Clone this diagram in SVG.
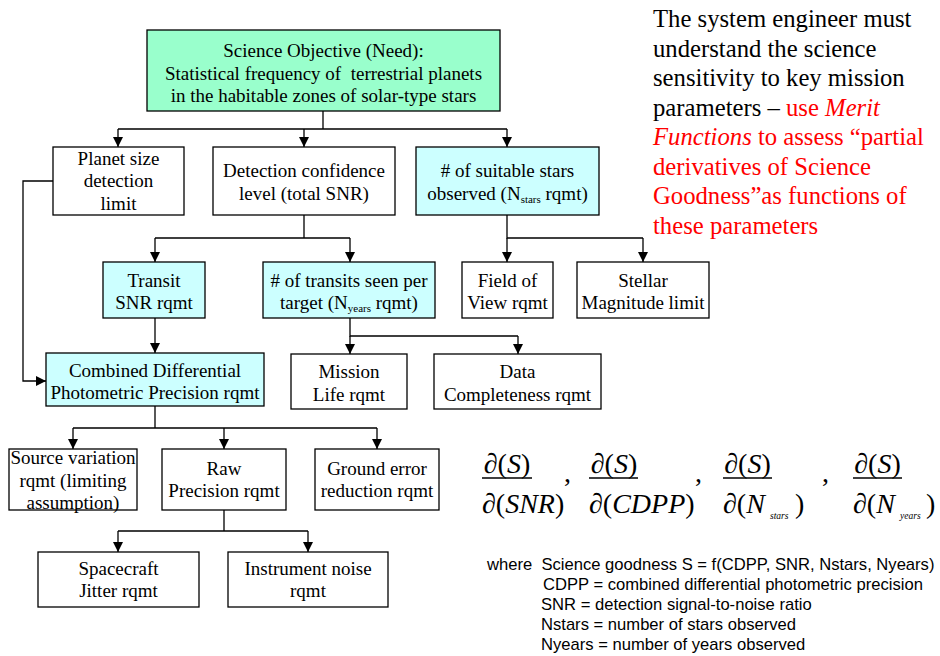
<svg xmlns="http://www.w3.org/2000/svg" width="940" height="656" viewBox="0 0 940 656">
<defs>
<marker id="ah" markerWidth="10" markerHeight="10" refX="10" refY="5" orient="auto" markerUnits="userSpaceOnUse">
<path d="M0,0 L10,5 L0,10 z" fill="#000"/>
</marker>
<style>
.box{stroke:#000;stroke-width:1.3;fill:#fff}
.cy{fill:#ccffff}
.gr{fill:#99ffcc}
.t{font-family:"Liberation Serif","Times New Roman",serif;font-size:19px;fill:#000;text-anchor:middle}
.sub{font-size:11px}
.c{stroke:#000;stroke-width:1.3;fill:none}
.a{marker-end:url(#ah)}
.rt{font-family:"Liberation Serif","Times New Roman",serif;font-size:24.7px;fill:#000}
.red{fill:#ff0000}
.f{font-family:"Liberation Serif","Times New Roman",serif;font-size:28px;fill:#000}
.fs{font-family:"Liberation Serif","Times New Roman",serif;font-size:9.5px;font-style:italic;fill:#000}
.it{font-style:italic}
.b{font-family:"Liberation Sans",Arial,sans-serif;font-size:16.6px;fill:#000}
</style>
</defs>
<rect width="940" height="656" fill="#fff"/>

<g id="connectors">
<path class="c" d="M323,111 V129 M118,129 H507"/>
<path class="c a" d="M118,129 V147"/>
<path class="c a" d="M304,129 V147"/>
<path class="c a" d="M507,129 V147"/>
<path class="c" d="M304,215 V238 M155,238 H350"/>
<path class="c a" d="M155,238 V262"/>
<path class="c a" d="M350,238 V262"/>
<path class="c" d="M507,215 V238 H643"/>
<path class="c a" d="M507,238 V262"/>
<path class="c a" d="M643,238 V262"/>
<path class="c a" d="M155,318 V353"/>
<path class="c" d="M350,318 V336 H518"/>
<path class="c a" d="M350,336 V354"/>
<path class="c a" d="M518,336 V354"/>
<path class="c a" d="M53,181 H23 V381 H46"/>
<path class="c" d="M155,406 V428 M73,428 H377"/>
<path class="c a" d="M73,428 V449"/>
<path class="c a" d="M224,428 V449"/>
<path class="c a" d="M377,428 V449"/>
<path class="c" d="M224,510 V531 M118,531 H308"/>
<path class="c a" d="M118,531 V552"/>
<path class="c a" d="M308,531 V552"/>
</g>

<g id="science-objective">
<rect class="box gr" x="147" y="30" width="353" height="81"/>
<text class="t" x="323.5" y="57">Science Objective (Need):</text>
<text class="t" x="323.5" y="80" xml:space="preserve">Statistical frequency of  terrestrial planets</text>
<text class="t" x="323.5" y="102">in the habitable zones of solar-type stars</text>
</g>

<g id="planet-size">
<rect class="box" x="53" y="147" width="131" height="68"/>
<text class="t" x="118.5" y="165">Planet size</text>
<text class="t" x="118.5" y="187">detection</text>
<text class="t" x="118.5" y="210">limit</text>
</g>

<g id="detection-confidence">
<rect class="box" x="213" y="147" width="182" height="68"/>
<text class="t" x="304" y="177">Detection confidence</text>
<text class="t" x="304" y="200">level (total SNR)</text>
</g>

<g id="suitable-stars">
<rect class="box cy" x="416" y="147" width="183" height="68"/>
<text class="t" x="507.5" y="177"># of suitable stars</text>
<text class="t" x="507.5" y="200">observed (N<tspan class="sub" dy="3">stars</tspan><tspan dy="-3"> rqmt)</tspan></text>
</g>

<g id="transit-snr">
<rect class="box cy" x="103" y="262" width="102" height="56"/>
<text class="t" x="154" y="287">Transit</text>
<text class="t" x="154" y="309">SNR rqmt</text>
</g>

<g id="transits-seen">
<rect class="box cy" x="263" y="262" width="172" height="56"/>
<text class="t" x="349" y="287"># of transits seen per</text>
<text class="t" x="349" y="309">target (N<tspan class="sub" dy="3">years</tspan><tspan dy="-3"> rqmt)</tspan></text>
</g>

<g id="field-of-view">
<rect class="box" x="462" y="262" width="91" height="56"/>
<text class="t" x="507.5" y="287">Field of</text>
<text class="t" x="507.5" y="309">View rqmt</text>
</g>

<g id="stellar-magnitude">
<rect class="box" x="577" y="262" width="132" height="56"/>
<text class="t" x="643" y="287">Stellar</text>
<text class="t" x="643" y="309">Magnitude limit</text>
</g>

<g id="cdpp">
<rect class="box cy" x="46" y="353" width="218" height="53"/>
<text class="t" x="155" y="377">Combined Differential</text>
<text class="t" x="155" y="399">Photometric Precision rqmt</text>
</g>

<g id="mission-life">
<rect class="box" x="291" y="354" width="116" height="55"/>
<text class="t" x="349" y="378">Mission</text>
<text class="t" x="349" y="401">Life rqmt</text>
</g>

<g id="data-completeness">
<rect class="box" x="434" y="354" width="167" height="55"/>
<text class="t" x="517.5" y="378">Data</text>
<text class="t" x="517.5" y="401">Completeness rqmt</text>
</g>

<g id="source-variation">
<rect class="box" x="9" y="449" width="128" height="61"/>
<text class="t" x="73" y="464">Source variation</text>
<text class="t" x="73" y="487">rqmt (limiting</text>
<text class="t" x="73" y="509">assumption)</text>
</g>

<g id="raw-precision">
<rect class="box" x="162" y="449" width="124" height="61"/>
<text class="t" x="224" y="475">Raw</text>
<text class="t" x="224" y="497">Precision rqmt</text>
</g>

<g id="ground-error">
<rect class="box" x="315" y="449" width="124" height="61"/>
<text class="t" x="377" y="475">Ground error</text>
<text class="t" x="377" y="497">reduction rqmt</text>
</g>

<g id="spacecraft-jitter">
<rect class="box" x="38" y="552" width="161" height="55"/>
<text class="t" x="118.5" y="575">Spacecraft</text>
<text class="t" x="118.5" y="597">Jitter rqmt</text>
</g>

<g id="instrument-noise">
<rect class="box" x="228" y="552" width="160" height="55"/>
<text class="t" x="308" y="575">Instrument noise</text>
<text class="t" x="308" y="597">rqmt</text>
</g>

<g id="note">
<text class="rt" x="653" y="27">The system engineer must</text>
<text class="rt" x="653" y="56.5">understand the science</text>
<text class="rt" x="653" y="86">sensitivity to key mission</text>
<text class="rt" x="653" y="115.5">parameters – <tspan class="red">use </tspan><tspan class="red it">Merit</tspan></text>
<text class="rt red" x="653" y="145"><tspan class="it">Functions</tspan> to assess “partial</text>
<text class="rt red" x="653" y="174.5">derivatives of Science</text>
<text class="rt red" x="653" y="204">Goodness”as functions of</text>
<text class="rt red" x="653" y="233.5">these parameters</text>
</g>

<g id="formulas">
<text class="f" x="507" y="473" text-anchor="middle">∂(<tspan class="it">S</tspan>)</text>
<line class="c" x1="482" y1="478" x2="532" y2="478"/>
<text class="f" x="482" y="513">∂(<tspan class="it">SNR</tspan>)</text>
<text class="f" x="564" y="482">,</text>
<text class="f" x="614" y="473" text-anchor="middle">∂(<tspan class="it">S</tspan>)</text>
<line class="c" x1="589" y1="478" x2="638" y2="478"/>
<text class="f" x="589" y="513">∂(<tspan class="it">CDPP</tspan>)</text>
<text class="f" x="695" y="482">,</text>
<text class="f" x="747.5" y="473" text-anchor="middle">∂(<tspan class="it">S</tspan>)</text>
<line class="c" x1="723" y1="478" x2="772" y2="478"/>
<text class="f" x="723" y="513">∂(<tspan class="it">N</tspan></text>
<text class="fs" x="770" y="519">stars</text>
<text class="f" x="795" y="513">)</text>
<text class="f" x="822" y="482">,</text>
<text class="f" x="877.5" y="473" text-anchor="middle">∂(<tspan class="it">S</tspan>)</text>
<line class="c" x1="853" y1="478" x2="902" y2="478"/>
<text class="f" x="853" y="513">∂(<tspan class="it">N</tspan></text>
<text class="fs" x="900" y="519">years</text>
<text class="f" x="926" y="513">)</text>
</g>

<g id="definitions">
<text class="b" x="487" y="570" xml:space="preserve">where  Science goodness S = f(CDPP, SNR, Nstars, Nyears)</text>
<text class="b" x="543" y="590">CDPP = combined differential photometric precision</text>
<text class="b" x="541" y="610">SNR = detection signal-to-noise ratio</text>
<text class="b" x="541" y="630">Nstars = number of stars observed</text>
<text class="b" x="541" y="650">Nyears = number of years observed</text>
</g>
</svg>
